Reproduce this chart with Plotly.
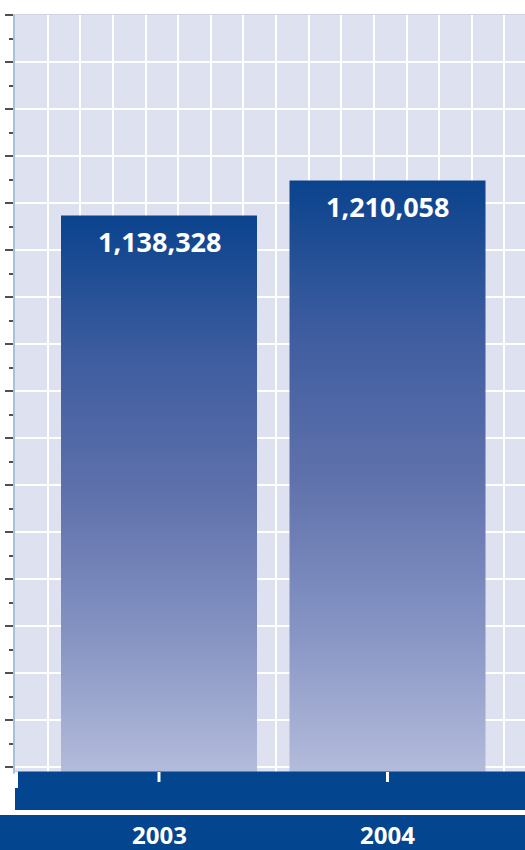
import plotly.graph_objects as go

# --- DATA ---
years = ["2003", "2004"]
totals = [1138328, 1210058]

# --- GEOMETRY (pixel layout of the 525x850 page) ---
W, H = 525, 850
M_L, M_R, M_T, M_B = 15, 0, 15, 77
plot_w = W - M_L - M_R
plot_h = H - M_T - M_B
base_px = H - M_B              # pixel row of the zero line

val_per_px = 2042              # value units per vertical pixel
unit_px = 228.5                # pixels between category centres
first_center_px = 159
bar_half = 98 / unit_px

x_left = (M_L - first_center_px) / unit_px
x_right = x_left + plot_w / unit_px


def py(p):
    """pixel row -> paper y"""
    return (base_px - p) / plot_h


def px(p):
    """pixel column -> paper x"""
    return (p - M_L) / plot_w


DARK = "#03458e"
BG = "#dde1f0"

fig = go.Figure()

# --- BARS (gradient filled polygons) ---
for i, (yr, v) in enumerate(zip(years, totals)):
    fig.add_trace(go.Scatter(
        x=[i - bar_half, i + bar_half, i + bar_half, i - bar_half, i - bar_half],
        y=[0, 0, v, v, 0],
        mode="lines",
        fill="toself",
        line=dict(width=0, color="rgba(0,0,0,0)"),
        fillgradient=dict(
            type="vertical",
            colorscale=[
                [0.0, "#b4bcdb"],
                [0.25, "#8593c3"],
                [0.5, "#5f71ac"],
                [0.75, "#3d5c9f"],
                [1.0, "#0a438d"],
            ],
        ),
        hoverinfo="skip",
        name=yr,
    ))

    # value label inside top of bar
    fig.add_annotation(
        x=i, y=v, xref="x", yref="y",
        text=f"<b>{v:,}</b>",
        showarrow=False,
        yanchor="middle",
        yshift=-26,
        font=dict(family="Open Sans", size=27, color="white"),
    )

    # category label in bottom band
    fig.add_annotation(
        x=i, y=py(834), xref="x", yref="paper",
        text=f"<b>{yr}</b>",
        showarrow=False,
        yanchor="middle",
        font=dict(family="Open Sans", size=24, color="white"),
    )

# --- BOTTOM BANDS ---
fig.add_shape(type="rect", xref="paper", yref="paper",
              x0=0, x1=1, y0=py(810), y1=py(771.5),
              fillcolor=DARK, line_width=0, layer="above")
fig.add_shape(type="rect", xref="paper", yref="paper",
              x0=px(0), x1=1, y0=py(850), y1=py(815),
              fillcolor=DARK, line_width=0, layer="above")
fig.add_shape(type="rect", xref="paper", yref="paper",
              x0=px(15), x1=px(18), y0=py(788), y1=py(771.5),
              fillcolor="white", line_width=0, layer="above")
for i in range(len(years)):
    fig.add_shape(type="line", xref="x", yref="paper",
                  x0=i, x1=i, y0=py(772), y1=py(782),
                  line=dict(color="white", width=3), layer="above")

# --- LAYOUT ---
fig.update_layout(
    width=W, height=H,
    margin=dict(l=M_L, r=M_R, t=M_T, b=M_B),
    paper_bgcolor="white",
    plot_bgcolor=BG,
    showlegend=False,
    xaxis=dict(
        range=[x_left, x_right],
        tickmode="linear", tick0=x_left, dtick=32.63 / unit_px,
        showgrid=True, gridcolor="white", gridwidth=2,
        showticklabels=False, ticks="", zeroline=False,
        showline=True, mirror=True, linecolor="#cfd3e3", linewidth=1,
    ),
    yaxis=dict(
        range=[0, plot_h * val_per_px],
        tickmode="linear", tick0=6 * val_per_px, dtick=47 * val_per_px,
        showgrid=True, gridcolor="white", gridwidth=2,
        showticklabels=False, zeroline=False,
        ticks="outside", ticklen=8, tickwidth=1.5, tickcolor="#505050",
        minor=dict(ticks="outside", ticklen=4, tickwidth=1.5, tickcolor="#505050",
                   tick0=6 * val_per_px, dtick=23.5 * val_per_px, showgrid=False),
        showline=True, linecolor="#a9bfdc", linewidth=2,
    ),
)

# page body has a default 8px margin; drop it so the figure sits at the corner
fig.write_html("out.html", config={"displayModeBar": False},
               post_script="document.body.style.margin='0';")
